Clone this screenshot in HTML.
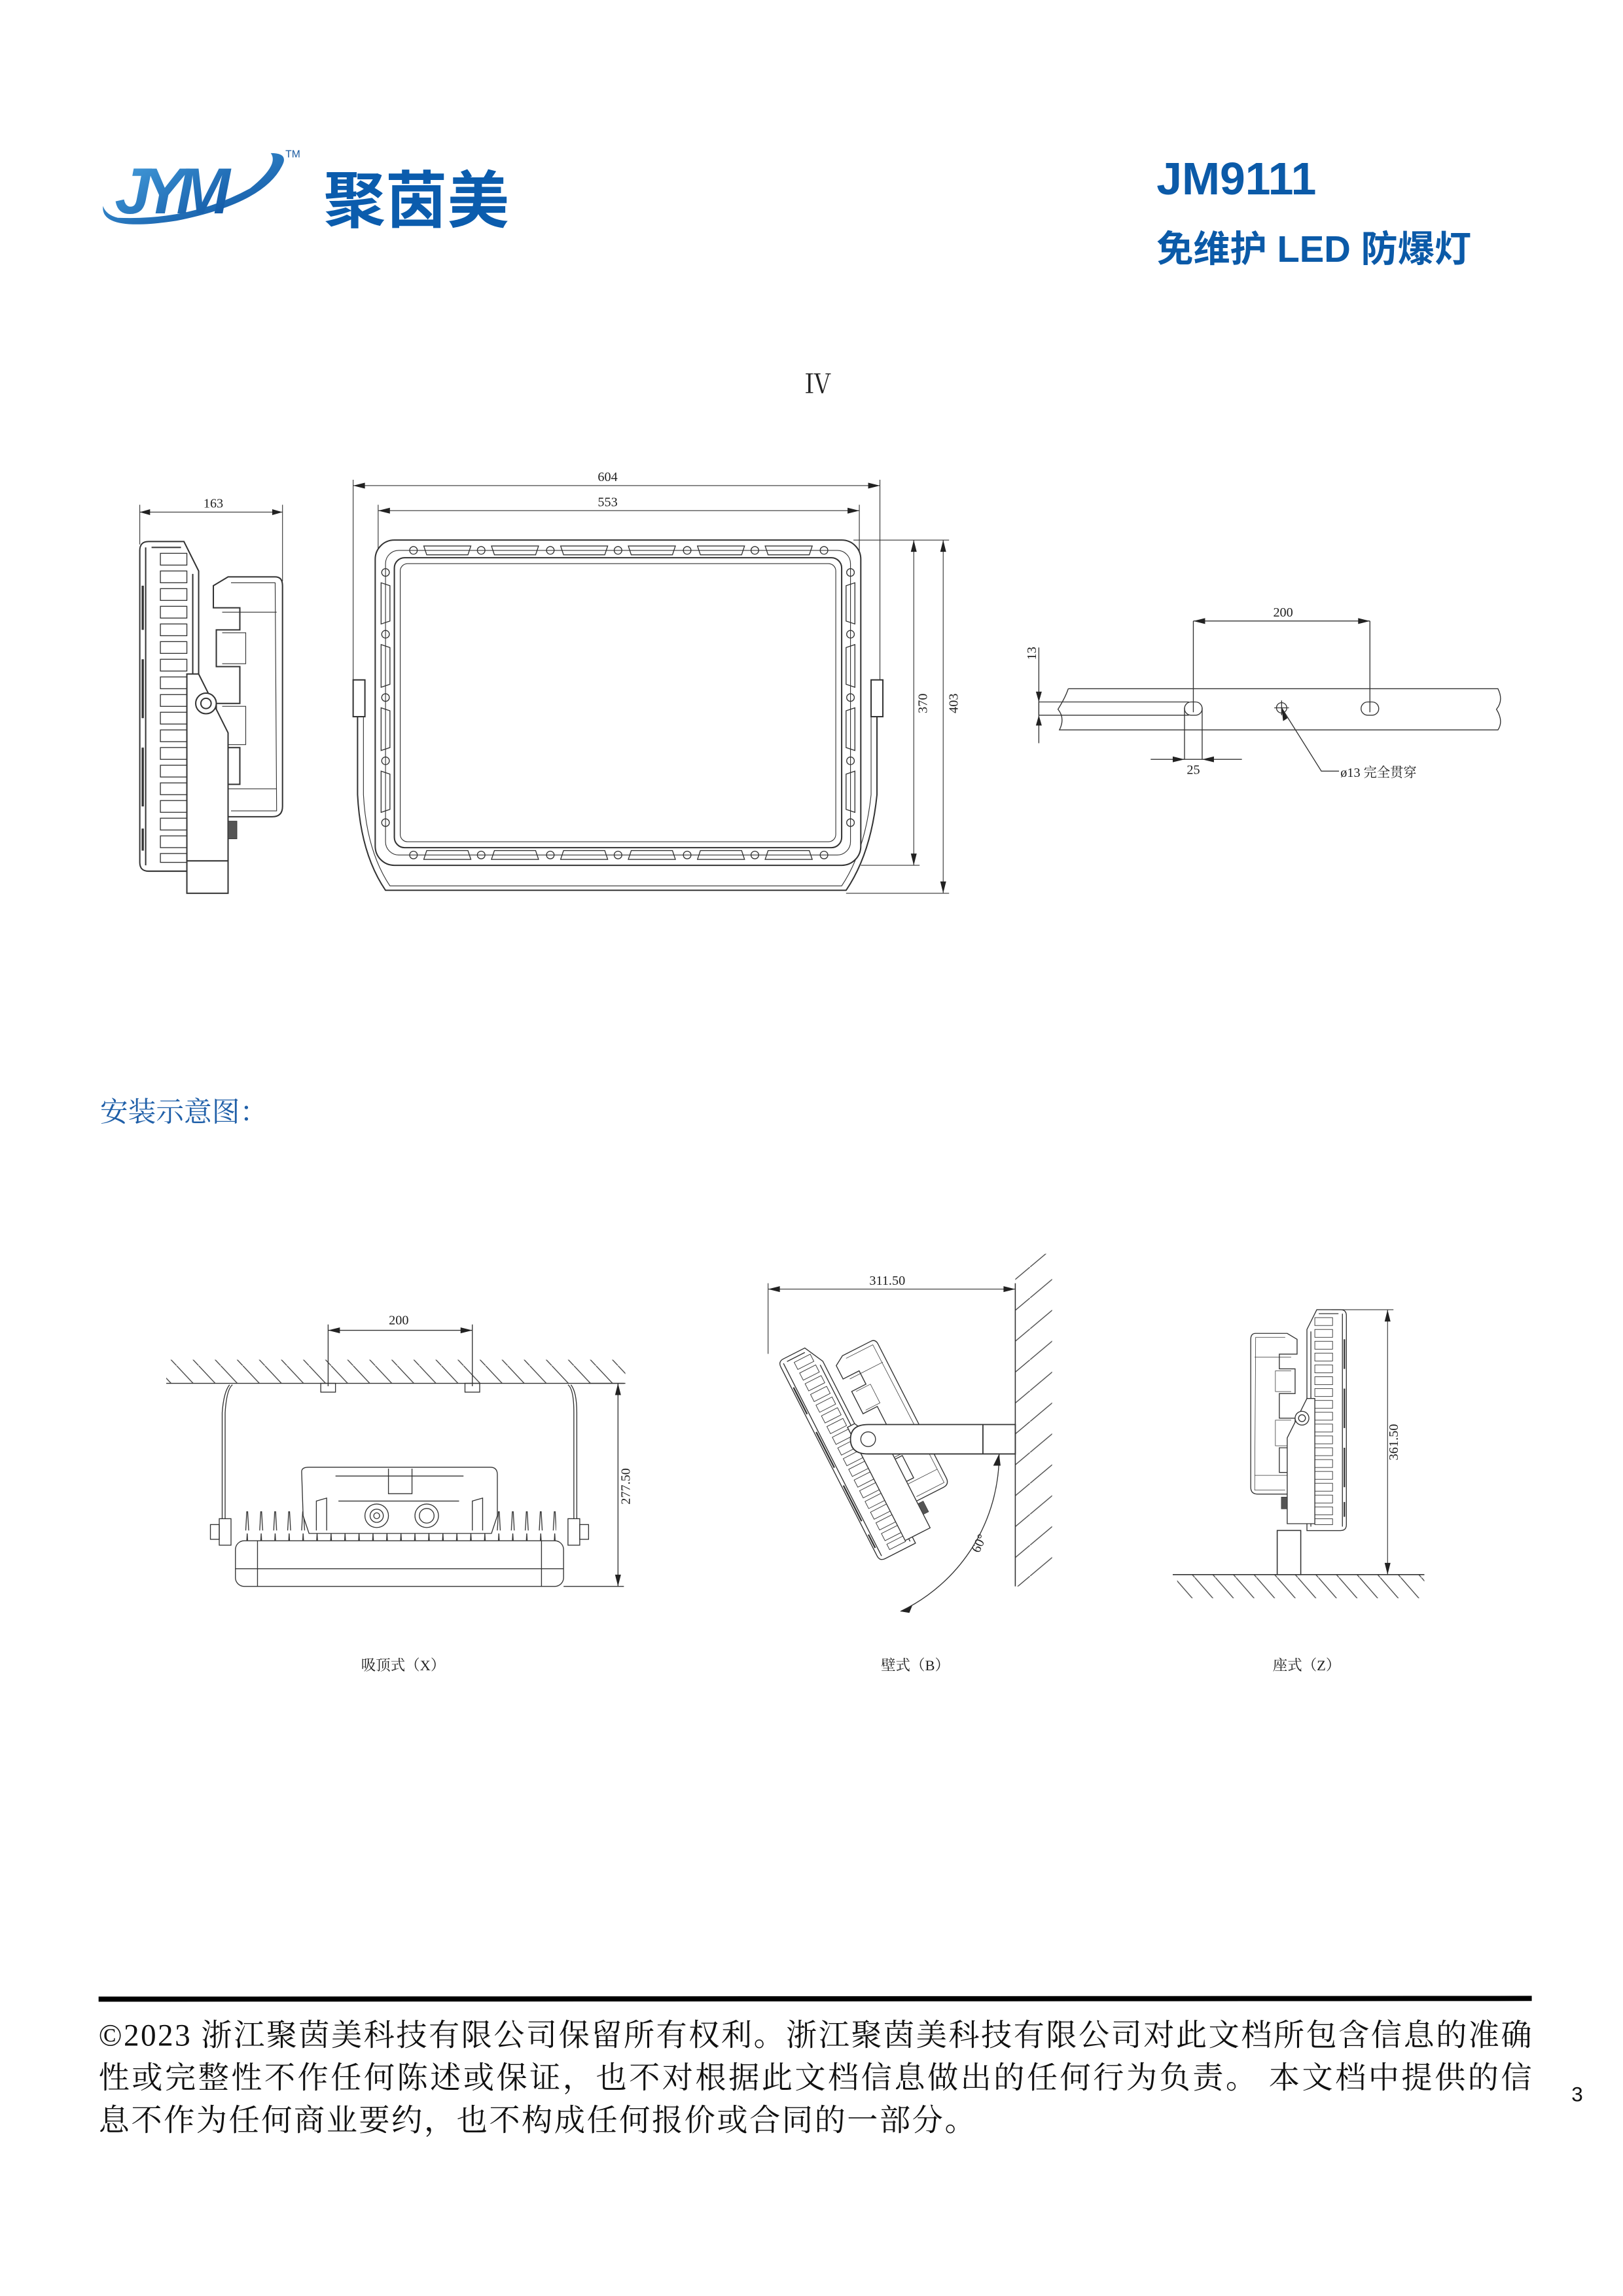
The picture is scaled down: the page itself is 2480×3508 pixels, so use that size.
<!DOCTYPE html>
<html><head><meta charset="utf-8"><style>
html,body{margin:0;padding:0;background:#fff}
svg{display:block}
</style></head><body>
<svg width="2480" height="3508" viewBox="0 0 1103 1560.2" preserveAspectRatio="none" xmlns="http://www.w3.org/2000/svg">
<defs>
<linearGradient id="lg" x1="0" y1="0" x2="1" y2="1"><stop offset="0" stop-color="#4aa3e0"/><stop offset="1" stop-color="#0a4f9e"/></linearGradient>
<pattern id="hatchC" patternUnits="userSpaceOnUse" width="15" height="16"><line x1="0" y1="0" x2="15" y2="16" stroke="#444" stroke-width="0.6"/></pattern>
<pattern id="hatchW" patternUnits="userSpaceOnUse" width="25" height="21"><line x1="0" y1="21" x2="25" y2="0" stroke="#444" stroke-width="0.6"/></pattern>
<pattern id="hatchF" patternUnits="userSpaceOnUse" width="14" height="16"><line x1="0" y1="0" x2="14" y2="16" stroke="#444" stroke-width="0.6"/></pattern>
<pattern id="finsX" patternUnits="userSpaceOnUse" width="9.5" height="20" x="165"><path d="M2,20 L3,2 L4,20" fill="none" stroke="#333" stroke-width="0.6"/></pattern>
<g id="side" fill="none" stroke="#333" stroke-width="0.9">
 <path d="M6,0 L30,0 L40,20 L40,224 L6,224 Q0,224 0,218 L0,6 Q0,0 6,0 Z"/>
 <path d="M4,4 L4,220 M36,22 L36,220 M8,4 L28,4"/>
 <g stroke-width="0.6">
 <rect x="14" y="8" width="18" height="8"/><rect x="14" y="20" width="18" height="8"/><rect x="14" y="32" width="18" height="8"/><rect x="14" y="44" width="18" height="8"/><rect x="14" y="56" width="18" height="8"/><rect x="14" y="68" width="18" height="8"/><rect x="14" y="80" width="18" height="8"/><rect x="14" y="92" width="18" height="8"/><rect x="14" y="104" width="18" height="8"/><rect x="14" y="116" width="18" height="8"/><rect x="14" y="128" width="18" height="8"/><rect x="14" y="140" width="18" height="8"/><rect x="14" y="152" width="18" height="8"/><rect x="14" y="164" width="18" height="8"/><rect x="14" y="176" width="18" height="8"/><rect x="14" y="188" width="18" height="8"/><rect x="14" y="200" width="18" height="8"/><rect x="14" y="212" width="18" height="6"/>
 <path d="M2,30 L2,60 M2,80 L2,120 M2,140 L2,180 M2,195 L2,210" stroke-width="1.5"/>
 </g>
 <path d="M50,30 L60,24 L92,24 Q97,24 97,30 L97,180 Q97,187 90,187 L60,187 L52,180 L52,165 L68,165 L68,140 L52,140 L52,110 L68,110 L68,85 L52,85 L52,60 L68,60 L68,45 L50,45 Z"/>
 <path d="M62,28 L92,28 L93,183 L62,183 M56,62 L72,62 L72,83 L56,83 M56,112 L72,112 L72,138 L56,138 M56,48 L93,48 M56,168 L93,168" stroke-width="0.5"/>
 <path d="M32,90 L40,90 L60,130 L60,217 L32,217 Z" fill="#fff"/>
 <circle cx="45" cy="110" r="7" fill="#fff"/><circle cx="45" cy="110" r="3.5"/>
 <rect x="60" y="190" width="6" height="12" fill="#555" stroke-width="0.4"/>
</g>
</defs>

<!-- Header logo -->
<path d="M70,140 Q68,158 120,150 Q180,138 192,112 Q196,104 184,104 Q190,112 170,128 Q130,150 80,148 Q72,146 70,140 Z" fill="url(#lg)"/>
<text x="78" y="145" font-family="Liberation Sans, sans-serif" font-weight="bold" font-style="italic" font-size="44" fill="url(#lg)" letter-spacing="-6">JYM</text>
<text x="194" y="107" font-family="Liberation Sans, sans-serif" font-size="7" fill="#1a5aa0">TM</text>
<text x="220" y="151" font-family="Liberation Sans, 'Noto Sans CJK SC', sans-serif" font-weight="bold" font-size="42" fill="#0b5cad">聚茵美</text>
<text x="786" y="132" font-family="Liberation Sans, sans-serif" font-weight="bold" font-size="31" fill="#0b5aa8">JM9111</text>
<text x="786" y="178" font-family="Liberation Sans, 'Noto Sans CJK SC', sans-serif" font-weight="bold" font-size="25" fill="#0b5aa8">免维护 LED 防爆灯</text>
<text x="556" y="267" text-anchor="middle" font-family="'Noto Serif CJK SC', serif" font-size="18" fill="#222">Ⅳ</text>

<g font-family="Liberation Serif, serif" font-size="9" fill="#222">
<!-- Drawing 1: side view -->
<g stroke="#333" stroke-width="0.5" fill="none">
<line x1="95" y1="343" x2="95" y2="370"/><line x1="192" y1="343" x2="192" y2="395"/>
<line x1="95" y1="348" x2="192" y2="348"/>
</g>
<path d="M95,348 l7,-2 v4z M192,348 l-7,-2 v4z" fill="#222"/>
<text x="145" y="345" text-anchor="middle">163</text>
<use href="#side" transform="translate(95,368)"/>
<rect x="127" y="585" width="28" height="22" fill="#fff" stroke="#333" stroke-width="0.9"/>

<!-- Front view -->
<g stroke="#333" stroke-width="0.5" fill="none">
<line x1="240" y1="326" x2="240" y2="470"/><line x1="598" y1="326" x2="598" y2="470"/>
<line x1="240" y1="330" x2="598" y2="330"/>
<line x1="257" y1="343" x2="257" y2="380"/><line x1="584" y1="343" x2="584" y2="380"/>
<line x1="257" y1="347" x2="584" y2="347"/>
<line x1="580" y1="367" x2="645" y2="367"/><line x1="585" y1="588" x2="625" y2="588"/><line x1="575" y1="607" x2="645" y2="607"/>
<line x1="621" y1="367" x2="621" y2="588"/><line x1="641" y1="367" x2="641" y2="607"/>
</g>
<path d="M240,330 l8,-2 v4z M598,330 l-8,-2 v4z M257,347 l8,-2 v4z M584,347 l-8,-2 v4z M621,367 l-2,8 h4z M621,588 l-2,-8 h4z M641,367 l-2,8 h4z M641,607 l-2,-8 h4z" fill="#222"/>
<text x="413" y="327" text-anchor="middle">604</text>
<text x="413" y="344" text-anchor="middle">553</text>
<text transform="translate(630,478) rotate(-90)" text-anchor="middle">370</text>
<text transform="translate(651,478) rotate(-90)" text-anchor="middle">403</text>
<g stroke="#333" fill="none" stroke-width="0.9">
<path d="M243,487 L243,540 Q245,580 262,605 L575,605 Q592,580 596,540 L596,487"/>
<path d="M247,487 L247,540 Q249,578 265,602 L572,602 Q588,578 592,540 L592,487" stroke-width="0.5"/>
<rect x="240" y="462" width="8" height="25" fill="#fff"/><rect x="592" y="462" width="8" height="25" fill="#fff"/>
<rect x="255" y="367" width="330" height="221" rx="13" fill="#fff"/>
<rect x="262" y="374" width="316" height="207" rx="9" stroke-width="0.5"/>
<rect x="268" y="379" width="304" height="197" rx="7"/>
<rect x="272" y="383" width="296" height="189" rx="5" stroke-width="0.5"/>
</g>
<g fill="none" stroke="#333" stroke-width="0.6">
<circle cx="281" cy="374" r="2.6"/><circle cx="327" cy="374" r="2.6"/><circle cx="374" cy="374" r="2.6"/><circle cx="420" cy="374" r="2.6"/><circle cx="467" cy="374" r="2.6"/><circle cx="513" cy="374" r="2.6"/><circle cx="560" cy="374" r="2.6"/>
<circle cx="281" cy="581" r="2.6"/><circle cx="327" cy="581" r="2.6"/><circle cx="374" cy="581" r="2.6"/><circle cx="420" cy="581" r="2.6"/><circle cx="467" cy="581" r="2.6"/><circle cx="513" cy="581" r="2.6"/><circle cx="560" cy="581" r="2.6"/>
<path d="M288,371 h32 l-2,6 h-28z M334,371 h32 l-2,6 h-28z M381,371 h32 l-2,6 h-28z M427,371 h32 l-2,6 h-28z M474,371 h32 l-2,6 h-28z M520,371 h32 l-2,6 h-28z"/>
<path d="M288,584 h32 l-2,-6 h-28z M334,584 h32 l-2,-6 h-28z M381,584 h32 l-2,-6 h-28z M427,584 h32 l-2,-6 h-28z M474,584 h32 l-2,-6 h-28z M520,584 h32 l-2,-6 h-28z"/>
<circle cx="262" cy="389" r="2.6"/><circle cx="262" cy="431" r="2.6"/><circle cx="262" cy="474" r="2.6"/><circle cx="262" cy="517" r="2.6"/><circle cx="262" cy="559" r="2.6"/>
<circle cx="578" cy="389" r="2.6"/><circle cx="578" cy="431" r="2.6"/><circle cx="578" cy="474" r="2.6"/><circle cx="578" cy="517" r="2.6"/><circle cx="578" cy="559" r="2.6"/>
<path d="M259,396 v28 l6,-2 v-24z M259,438 v29 l6,-2 v-25z M259,481 v29 l6,-2 v-25z M259,524 v28 l6,-2 v-24z"/>
<path d="M581,396 v28 l-6,-2 v-24z M581,438 v29 l-6,-2 v-25z M581,481 v29 l-6,-2 v-25z M581,524 v28 l-6,-2 v-24z"/>
</g>

<!-- Detail bar -->
<g stroke="#333" stroke-width="0.6" fill="none">
<path d="M726,468 L1018,468 Q1022,476 1017,482 Q1022,490 1018,496 L720,496 Q724,488 719,482 Q724,474 726,468"/>
<path d="M706,477 L808,477 M706,486 L808,486 M706,477 L706,486"/>
<rect x="805" y="477" width="12" height="9" rx="4.5"/><rect x="925" y="477" width="12" height="9" rx="4.5"/>
<circle cx="871" cy="481" r="3.5"/>
<path d="M811,422 L811,484 M931,422 L931,484 M811,422 L931,422 M805,481 L805,516 M817,481 L817,516 M782,516 L844,516 M706,440 L706,505 M866,481 L876,481 M871,476 L871,486 M871,481 L898,524 L910,524"/>
</g>
<path d="M811,422 l8,-2 v4z M931,422 l-8,-2 v4z M805,516 l-8,-2 v4z M817,516 l8,-2 v4z M706,477 l-2,-7 h4z M706,486 l-2,7 h4z M871,481 l1,9 l3,-2z" fill="#222"/>
<text x="872" y="419" text-anchor="middle">200</text>
<text x="811" y="526" text-anchor="middle">25</text>
<text transform="translate(704,444) rotate(-90)" text-anchor="middle">13</text>
<text x="911" y="528" font-family="Liberation Serif, 'Noto Serif CJK SC', serif" font-size="9">ø13 完全贯穿</text>
</g>

<text x="68" y="762" font-family="Liberation Serif, 'Noto Serif CJK SC', serif" font-size="19" fill="#1f5fa8">安装示意图：</text>

<!-- X mount -->
<g stroke="#333" stroke-width="0.6" fill="none" font-family="Liberation Serif, serif">
<rect x="113" y="924" width="312" height="16" fill="url(#hatchC)" stroke="none"/>
<line x1="113" y1="940" x2="425" y2="940"/>
<path d="M223,900 L223,942 M321,900 L321,942 M223,904 L321,904"/>
<rect x="218" y="940" width="10" height="6"/><rect x="316" y="940" width="10" height="6"/>
<path d="M158,941 Q154,944 153,960 L153,1040 M156,941 Q152,946 151,960 L151,1040 M386,941 Q390,944 390,960 L390,1040 M388,941 Q392,946 392,960 L392,1040"/>
<rect x="149" y="1032" width="8" height="18" fill="#fff"/><rect x="386" y="1032" width="8" height="18" fill="#fff"/>
<rect x="143" y="1036" width="6" height="10"/><rect x="394" y="1036" width="6" height="10"/>
<rect x="160" y="1047" width="223" height="31" rx="6" fill="#fff"/>
<line x1="160" y1="1066" x2="383" y2="1066"/><line x1="175" y1="1047" x2="175" y2="1078"/><line x1="368" y1="1047" x2="368" y2="1078"/>
<rect x="165" y="1027" width="213" height="20" fill="url(#finsX)" stroke="none"/>
<path d="M205,1000 Q205,997 210,997 L333,997 Q338,997 338,1002 L338,1030 L334,1042 L210,1042 L206,1030 Z" fill="#fff"/>
<path d="M215,1040 L215,1020 L222,1018 L222,1040 M321,1040 L321,1020 L328,1018 L328,1040 M228,1003 L315,1003 M230,1020 L312,1020 M264,998 L264,1015 L280,1015 L280,998"/>
<circle cx="256" cy="1030" r="8" fill="#fff"/><circle cx="256" cy="1030" r="4.5"/><circle cx="256" cy="1030" r="2"/>
<circle cx="290" cy="1030" r="8" fill="#fff"/><circle cx="290" cy="1030" r="5"/>
<path d="M383,1078 L424,1078 M420,940 L420,1078 M400,940 L424,940"/>
</g>
<path d="M223,904 l8,-2 v4z M321,904 l-8,-2 v4z M420,940 l-2,8 h4z M420,1078 l-2,-8 h4z" fill="#222"/>
<g font-family="Liberation Serif, 'Noto Serif CJK SC', serif" font-size="9" fill="#222">
<text x="271" y="900" text-anchor="middle">200</text>
<text transform="translate(428,1010) rotate(-90)" text-anchor="middle">277.50</text>
<text x="274" y="1135" text-anchor="middle" font-size="10">吸顶式（X）</text>

<!-- B mount -->
<rect x="690" y="852" width="25" height="226" fill="url(#hatchW)"/>
<line x1="690" y1="872" x2="690" y2="1078" stroke="#333" stroke-width="0.7"/>
<path d="M522,872 L522,920 M522,876 L690,876" stroke="#333" stroke-width="0.5"/>
<path d="M522,876 l8,-2 v4z M690,876 l-8,-2 v4z" fill="#222"/>
<text x="603" y="873" text-anchor="middle">311.50</text>
<use href="#side" transform="translate(590,978) rotate(-27) scale(0.68) translate(-45,-110)"/>
<path d="M590,968 L690,968 L690,988 L590,988 Q578,988 578,978 Q578,968 590,968 Z M668,968 L668,988" fill="#fff" stroke="#333" stroke-width="0.8"/>
<circle cx="590" cy="978" r="5" fill="none" stroke="#333" stroke-width="0.6"/>
<path d="M612,1095 A118,118 0 0 0 679,988" fill="none" stroke="#333" stroke-width="0.6"/>
<path d="M679,988 l-4,8 h5z M612,1095 l8,-4 l-2,5z" fill="#222"/>
<text transform="translate(668,1050) rotate(-65)" text-anchor="middle">60°</text>
<text x="622" y="1135" text-anchor="middle" font-size="10">壁式（B）</text>

<!-- Z mount -->
<rect x="800" y="1070" width="168" height="16" fill="url(#hatchF)"/>
<line x1="797" y1="1070" x2="968" y2="1070" stroke="#333" stroke-width="0.7"/>
<use href="#side" transform="translate(915,890) scale(-0.67,0.67)"/>
<rect x="868" y="1040" width="16" height="30" fill="#fff" stroke="#333" stroke-width="0.7"/>
<path d="M905,890 L947,890 M943,890 L943,1070" stroke="#333" stroke-width="0.5"/>
<path d="M943,890 l-2,8 h4z M943,1070 l-2,-8 h4z" fill="#222"/>
<text transform="translate(950,980) rotate(-90)" text-anchor="middle">361.50</text>
<text x="888" y="1135" text-anchor="middle" font-size="10">座式（Z）</text>
</g>

<!-- Footer -->
<line x1="67" y1="1358.5" x2="1041" y2="1358" stroke="#000" stroke-width="3.5"/>
<g font-family="Liberation Serif, 'Noto Serif CJK SC', serif" font-size="21" fill="#111">
<text x="67" y="1390" textLength="974" lengthAdjust="spacing">©2023 浙江聚茵美科技有限公司保留所有权利。浙江聚茵美科技有限公司对此文档所包含信息的准确</text>
<text x="67" y="1419" textLength="974" lengthAdjust="spacing">性或完整性不作任何陈述或保证，也不对根据此文档信息做出的任何行为负责。 本文档中提供的信</text>
<text x="67" y="1448" textLength="596" lengthAdjust="spacing">息不作为任何商业要约，也不构成任何报价或合同的一部分。</text>
</g>
<text x="1068" y="1428" font-family="Liberation Sans, sans-serif" font-size="14" fill="#111">3</text>
</svg>
</body></html>
